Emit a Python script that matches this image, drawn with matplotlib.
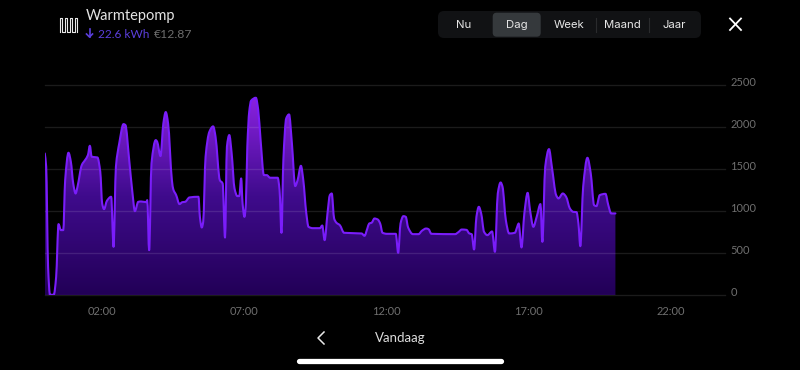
import numpy as np
import matplotlib
matplotlib.use("Agg")
import matplotlib.pyplot as plt
from matplotlib.colors import LinearSegmentedColormap
from matplotlib.patches import FancyBboxPatch, PathPatch
from matplotlib.path import Path
from matplotlib.transforms import ScaledTranslation

# minutes since midnight
minutes = [0, 3, 7, 11, 19, 24, 29, 34, 39, 43, 50, 55, 60, 65, 69, 78, 85, 91, 95, 99,
           111, 117, 121, 125, 131, 140, 145, 150, 157, 166, 170, 178, 185, 190, 197, 203,
           214, 216, 220, 225, 234, 237, 244, 250, 255, 260, 268, 271, 277, 284, 290, 296,
           305, 324, 327, 331, 334, 339, 347, 355, 360, 369, 375, 380, 384, 389, 394, 400,
           406, 410, 414, 417, 421, 424, 427, 431, 435, 445, 450, 455, 462, 468, 475, 491,
           495, 499, 503, 509, 515, 521, 528, 533, 540, 545, 551, 556, 565, 580, 585, 590,
           596, 601, 605, 610, 615, 622, 631, 668, 674, 680, 684, 689, 695, 702, 707, 712,
           721, 740, 745, 750, 756, 761, 766, 776, 788, 795, 804, 809, 815, 865, 872, 879,
           889, 895, 900, 905, 910, 915, 920, 926, 933, 943, 949, 955, 961, 965, 972, 979,
           991, 996, 999, 1005, 1011, 1018, 1023, 1030, 1037, 1045, 1049, 1055, 1063, 1069,
           1078, 1083, 1092, 1099, 1107, 1114, 1121, 1125, 1129, 1135, 1144, 1151, 1158,
           1163, 1170, 1182, 1188, 1194, 1203]
watts = [1684, 1525, 337, 5, 5, 218, 844, 773, 773, 1367, 1692, 1585, 1327, 1208, 1288,
         1545, 1605, 1664, 1775, 1644, 1636, 1466, 1090, 1022, 1121, 1169, 575, 1525, 1803,
         2032, 2021, 1605, 1208, 998, 1109, 1113, 1105, 1129, 535, 1565, 1842, 1822, 1652,
         2040, 2175, 2040, 1367, 1256, 1189, 1082, 1105, 1109, 1161, 1169, 931, 804, 872,
         1644, 1941, 2005, 1882, 1367, 1327, 685, 1763, 1902, 1684, 1268, 1177, 1177, 1387,
         1090, 931, 1090, 1763, 2179, 2310, 2345, 2199, 1842, 1426, 1426, 1395, 1395, 1248,
         741, 1605, 2100, 2147, 1803, 1296, 1367, 1537, 1367, 990, 812, 796, 796, 828, 654,
         971, 1189, 1208, 911, 860, 832, 741, 733, 705, 792, 852, 860, 911, 899, 852, 741,
         729, 729, 503, 852, 939, 931, 804, 725, 725, 765, 792, 784, 729, 725, 749, 780,
         776, 733, 725, 543, 931, 1050, 971, 753, 713, 757, 515, 1208, 1339, 1288, 891, 733,
         741, 812, 852, 567, 971, 1216, 1010, 812, 931, 1082, 634, 1525, 1735, 1525, 1189,
         1149, 1208, 1169, 1030, 990, 987, 852, 582, 1288, 1632, 1446, 1070, 1058, 1189,
         1204, 1070, 971, 971]

y_ticks = [0, 500, 1000, 1500, 2000, 2500]
x_ticks = [120, 420, 720, 1020, 1320]
x_labels = ["02:00", "07:00", "12:00", "17:00", "22:00"]
tabs = ["Nu", "Dag", "Week", "Maand", "Jaar"]
tab_x = [464, 516.5, 569, 622, 674.5]


def monotone_path(xs, ys):
    # smooth curve through the points without overshoot, as bezier segments
    xs = np.asarray(xs, float)
    ys = np.asarray(ys, float)
    h = np.diff(xs)
    s = np.diff(ys) / h
    m = np.zeros(len(xs))
    for i in range(1, len(xs) - 1):
        if s[i - 1] * s[i] > 0:
            m[i] = 2 * s[i - 1] * s[i] / (s[i - 1] + s[i])
    m[0], m[-1] = s[0], s[-1]
    verts = [(xs[0], ys[0])]
    codes = [Path.MOVETO]
    for i in range(len(h)):
        verts += [(xs[i] + h[i] / 3, ys[i] + m[i] * h[i] / 3),
                  (xs[i + 1] - h[i] / 3, ys[i + 1] - m[i + 1] * h[i] / 3),
                  (xs[i + 1], ys[i + 1])]
        codes += [Path.CURVE4] * 3
    return verts, codes


fig = plt.figure(figsize=(8, 3.7), dpi=100, facecolor="black")
plt.rcParams["font.family"] = ["Lato", "DejaVu Sans"]

# chart area, placed to match the screenshot pixels
ax = fig.add_axes([45 / 800, 1 - 295.2 / 370, (725 - 45) / 800, (295.2 - 84.7) / 370])
ax.set_facecolor("black")
for s in ax.spines.values():
    s.set_visible(False)

verts, codes = monotone_path(minutes, watts)

# gradient fill under the curve
fill_path = Path(verts + [(minutes[-1], 0), (minutes[0], 0), (minutes[0], watts[0])],
                 codes + [Path.LINETO, Path.LINETO, Path.LINETO])
cmap = LinearSegmentedColormap.from_list("fill", ["#220057", "#3f0b8c", "#8a22e0"])
im = ax.imshow(np.linspace(1, 0, 256).reshape(-1, 1), cmap=cmap, aspect="auto",
               extent=[0.5, 1434, 0, 2350], zorder=1)
im.set_clip_path(PathPatch(fill_path, transform=ax.transData))
ax.set_xlim(0.5, 1434)
ax.set_ylim(0, 2500)

for v in y_ticks:
    ax.axhline(v, color="white", alpha=0.11, lw=1, zorder=2, clip_on=False)

ax.add_patch(PathPatch(Path(verts, codes), fc="none", ec="#7a1dfa", lw=1.5, zorder=3,
                       capstyle="round", joinstyle="round"))

ax.set_xticks(x_ticks)
ax.set_xticklabels(x_labels)
ax.set_yticks(y_ticks)
ax.yaxis.tick_right()
ax.tick_params(axis="x", length=0, pad=8, labelsize=8, labelcolor="#6f6f6f")
ax.tick_params(axis="y", length=0, pad=4, labelsize=8, labelcolor="#6f6f6f")
# y labels sit a little above their grid lines
up = ScaledTranslation(0, 2.4 / 72, fig.dpi_scale_trans)
for t in ax.get_yticklabels():
    t.set_transform(t.get_transform() + up)

# overlay in screen pixels for the app chrome
ui = fig.add_axes([0, 0, 1, 1], facecolor="none")
ui.set_xlim(0, 800)
ui.set_ylim(370, 0)
ui.axis("off")

ui.text(86, 16, "Warmtepomp", color="#e4e4e4", fontsize=10.5, va="center")
ui.text(97.5, 34, "22.6 kWh", color="#5b3fdc", fontsize=8.6, va="center")
ui.text(154, 34, "€12.87", color="#6c6c6c", fontsize=8.8, va="center")
ui.plot([89.5, 89.5], [29, 37], color="#5b3fdc", lw=1.2)
ui.plot([86.5, 89.5, 92.5], [34, 37, 34], color="#5b3fdc", lw=1.2)

# heating coil icon
coil_x = [59.5, 59.5, 62, 62, 64.5, 64.5, 67, 67, 69.5, 69.5, 72, 72, 74.5, 74.5, 77, 77]
coil_y = [32, 17.5, 17.5, 32, 32, 17.5, 17.5, 32, 32, 17.5, 17.5, 32, 32, 17.5, 17.5, 32]
ui.plot(coil_x, coil_y, color="#e8e8e8", lw=0.8, solid_joinstyle="round")

# period selector
ui.add_patch(FancyBboxPatch((438, 11), 263, 27, boxstyle="round,pad=0,rounding_size=6",
                            fc="#111214", ec="none", lw=0))
ui.add_patch(FancyBboxPatch((492.7, 12.7), 48, 24, boxstyle="round,pad=0,rounding_size=4",
                            fc="#35393c", ec="none", lw=0))
for sx in [595.5, 648.5]:
    ui.plot([sx, sx], [18, 32], color="#2a2b2d", lw=0.8)
for name, tx in zip(tabs, tab_x):
    ui.text(tx, 25, name, color="#e6e6e6", fontsize=8.2, family=["Inter", "DejaVu Sans"],
            ha="center", va="center")

# close button
ui.plot([730, 741], [18.5, 30], color="white", lw=1.3)
ui.plot([730, 741], [30, 18.5], color="white", lw=1.3)

# bottom navigation
ui.plot([324, 318, 324], [332, 338, 344], color="#e8e8e8", lw=1.1)
ui.text(400, 338, "Vandaag", color="#dcdcdc", fontsize=9.5, ha="center", va="center")
ui.plot([299, 501], [360.5, 360.5], color="white", lw=3.8, solid_capstyle="round")

fig.savefig("out.png", dpi=100, facecolor="black")
